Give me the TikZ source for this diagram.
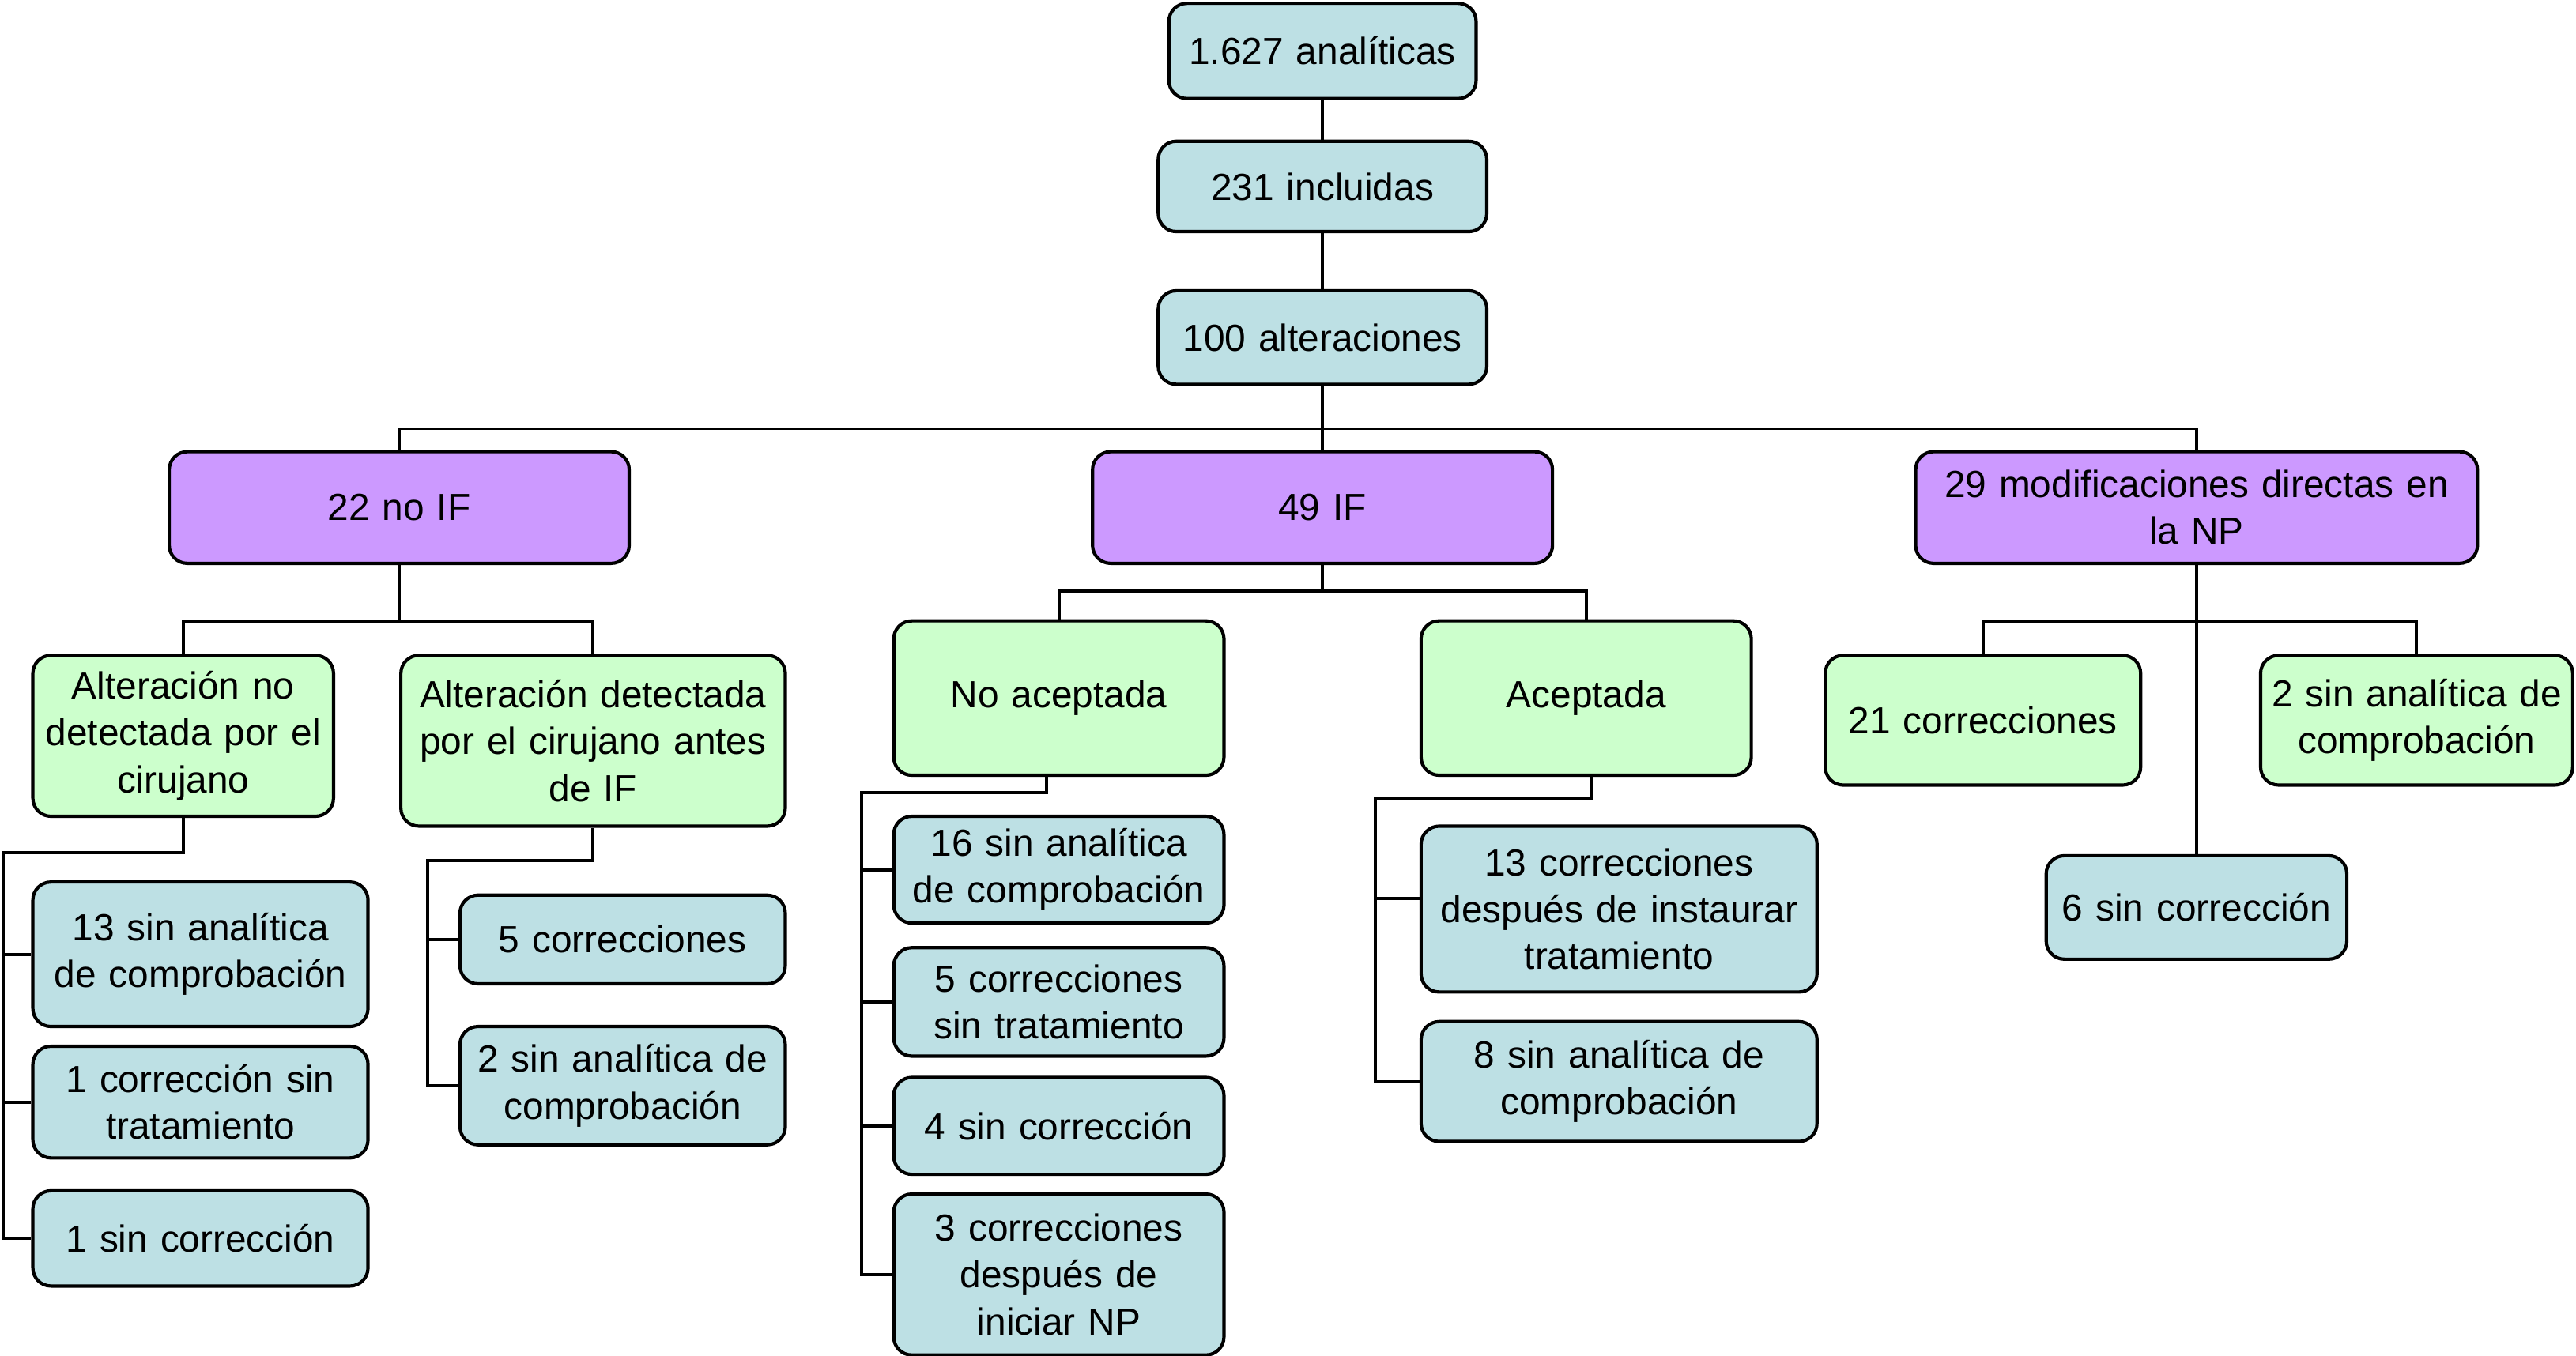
\documentclass[tikz,border=0pt]{standalone}
\usepackage{fontspec}
\setmainfont{Liberation Sans}
\definecolor{boxblue}{RGB}{189,224,228}
\definecolor{boxgreen}{RGB}{204,255,204}
\definecolor{boxpurple}{RGB}{204,153,255}
\tikzset{
  basebox/.style={draw=black, line width=2pt, rounded corners=11pt, align=center,
    inner sep=0pt, font=\fontsize{23}{28.5}\selectfont},
  bluebox/.style={basebox, fill=boxblue},
  greenbox/.style={basebox, fill=boxgreen},
  purplebox/.style={basebox, fill=boxpurple},
  conn/.style={draw=black, line width=1.9pt},
}
\newcommand{\bx}[7]{\node[#1, minimum width=#4pt, minimum height=#5pt, text width=#4pt-8pt] (#6) at (#2,#3) {#7};}
\begin{document}
\begin{tikzpicture}[x=1pt,y=-1pt]
\useasboundingbox (0,0) rectangle (1568,825.6);
% top chain
\bx{bluebox}{805}{31}{187}{58}{A}{1.627 analíticas}
\bx{bluebox}{805}{113.5}{200}{55}{B}{231 incluidas}
\bx{bluebox}{805}{205.5}{200}{57}{C}{100 alteraciones}
% level 2
\bx{purplebox}{243}{309}{280}{68}{D}{22 no IF}
\bx{purplebox}{805}{309}{280}{68}{E}{49 IF}
\bx{purplebox}{1337}{309}{342}{68}{F}{29 modificaciones directas en\\la NP}
% under D
\bx{greenbox}{111.5}{448}{183}{98}{G}{Alteración no\\detectada por el\\cirujano}
\bx{greenbox}{361}{451}{234}{104}{H}{Alteración detectada\\por el cirujano antes\\de IF}
\bx{bluebox}{122}{581}{204}{88}{G1}{13 sin analítica\\de comprobación}
\bx{bluebox}{122}{671}{204}{68}{G2}{1 corrección sin\\tratamiento}
\bx{bluebox}{122}{754}{204}{58}{G3}{1 sin corrección}
\bx{bluebox}{379}{572}{198}{54}{H1}{5 correcciones}
\bx{bluebox}{379}{661}{198}{72}{H2}{2 sin analítica de\\comprobación}
% under E
\bx{greenbox}{644.5}{425}{201}{94}{I}{No aceptada}
\bx{greenbox}{965.5}{425}{201}{94}{J}{Aceptada}
\bx{bluebox}{644.5}{529.5}{201}{65}{I1}{16 sin analítica\\de comprobación}
\bx{bluebox}{644.5}{610}{201}{66}{I2}{5 correcciones\\sin tratamiento}
\bx{bluebox}{644.5}{685.5}{201}{59}{I3}{4 sin corrección}
\bx{bluebox}{644.5}{776}{201}{98}{I4}{3 correcciones\\después de\\iniciar NP}
\bx{bluebox}{985.5}{553.5}{241}{101}{J1}{13 correcciones\\después de instaurar\\tratamiento}
\bx{bluebox}{985.5}{658.5}{241}{73}{J2}{8 sin analítica de\\comprobación}
% under F
\bx{greenbox}{1207}{438.5}{192}{79}{K1}{21 correcciones}
\bx{bluebox}{1337}{552.5}{183}{63}{K2}{6 sin corrección}
\bx{greenbox}{1471}{438.5}{190}{79}{K3}{2 sin analítica de\\comprobación}
% connector junctions
\coordinate (b1) at (805,261);
\coordinate (d1) at (243,378);
\coordinate (g1) at (2,519);
\coordinate (h1) at (260.5,524);
\coordinate (e1) at (805,360);
\coordinate (i0) at (637,472);
\coordinate (i1) at (524.5,482.5);
\coordinate (j0) at (969,472);
\coordinate (j1) at (837,486.5);
\coordinate (f1) at (1337,378);
% connectors
\draw[conn] (A.south) -- (B.north);
\draw[conn] (B.south) -- (C.north);
\draw[conn] (C.south) -- (b1);
\draw[conn] (D.north) |- (b1) -| (F.north);
\draw[conn] (b1) -- (E.north);
\draw[conn] (D.south) -- (d1);
\draw[conn] (G.north) |- (d1) -| (H.north);
\draw[conn] (G.south) |- (g1) |- (G3.west);
\draw[conn] (g1) |- (G1.west);
\draw[conn] (g1) |- (G2.west);
\draw[conn] (H.south) |- (h1) |- (H2.west);
\draw[conn] (h1) |- (H1.west);
\draw[conn] (E.south) -- (e1);
\draw[conn] (I.north) |- (e1) -| (J.north);
\draw[conn] (i0) |- (i1) |- (I4.west);
\draw[conn] (i1) |- (I1.west);
\draw[conn] (i1) |- (I2.west);
\draw[conn] (i1) |- (I3.west);
\draw[conn] (j0) |- (j1) |- (J2.west);
\draw[conn] (j1) |- (J1.177);
\draw[conn] (F.south) -- (K2.north);
\draw[conn] (K1.north) |- (f1) -| (K3.north);
\end{tikzpicture}
\end{document}
